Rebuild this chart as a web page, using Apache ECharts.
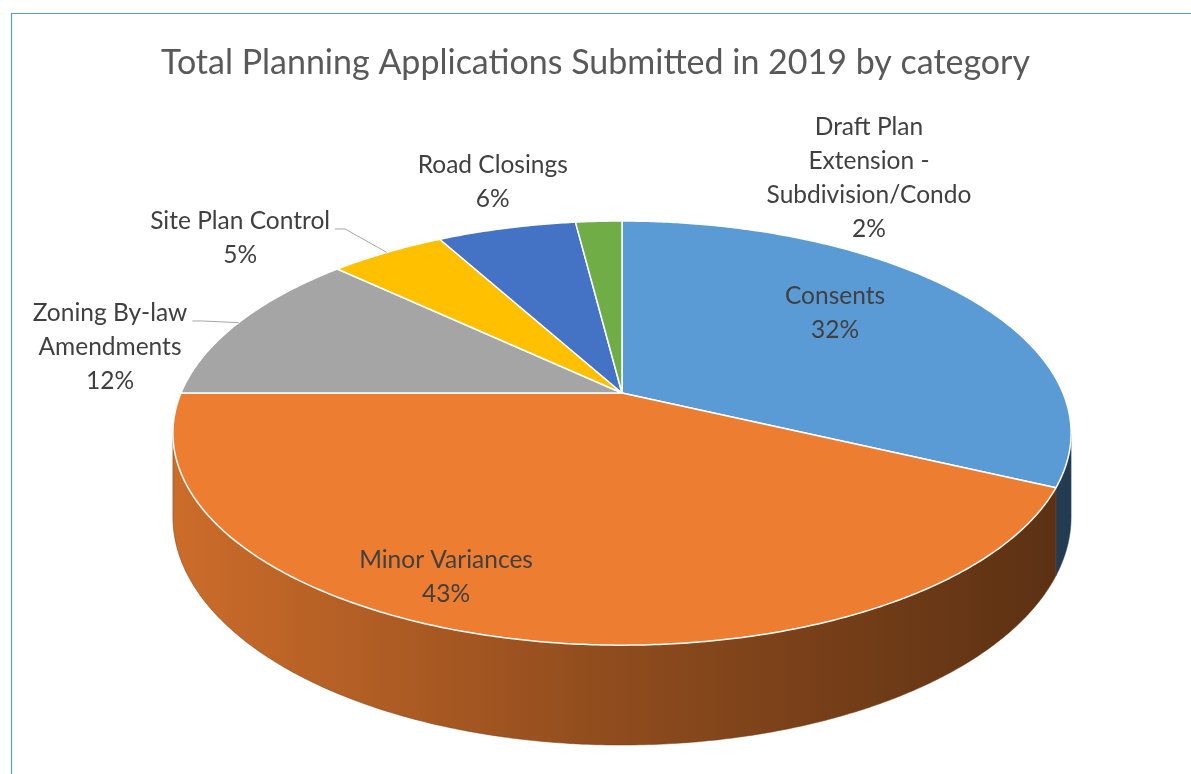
<!DOCTYPE html>
<html>
<head>
<meta charset="utf-8">
<script src="https://cdn.jsdelivr.net/npm/echarts@6/dist/echarts.min.js"></script>
<style>
  html, body { margin: 0; padding: 0; background: #fff; }
  #chart { width: 1191px; height: 774px; }
</style>
</head>
<body>
<div id="chart"></div>
<script>
var categories = ['Consents', 'Minor Variances', 'Zoning By-law\nAmendments', 'Site Plan Control', 'Road Closings', 'Draft Plan\nExtension -\nSubdivision/Condo'];
var percents = [32, 43, 12, 5, 6, 2];
var colors = ['#5B9BD5', '#ED7D31', '#A5A5A5', '#FFC000', '#4472C4', '#70AD47'];

// 3d pie look: ellipse radii, perspective factor, wall height
var pie = { cx: 622, cy: 393, a: 441, b: 204.5, k: 0.189, h: 81 };
// label anchors as fractions of radii from the pie centre
var labelAnchor = [[0.483, -0.391], [-0.399, 0.9], [-1.161, -0.225], [-0.866, -0.758], [-0.293, -1.032], [0.56, -1.051]];
var hasLeader = [false, false, true, true, false, false];
var labelFont = '24.5px Lato';
var lineH = 34;

var total = percents.reduce(function (s, v) { return s + v }, 0);
var starts = [], ends = [];
var acc = 0;
percents.forEach(function (v) {
  starts.push(acc / total * Math.PI * 2);
  acc += v;
  ends.push(acc / total * Math.PI * 2);
});

// angle from 12 o'clock, clockwise
function pt (phi, r, drop) {
  var c = Math.cos(phi);
  var s = 1 / (1 + pie.k * r * c);
  return [pie.cx + pie.a * r * Math.sin(phi) * s, pie.cy - pie.b * r * c * s + (drop ? pie.h * s : 0)];
}

function shade (hex, f) {
  var n = parseInt(hex.slice(1), 16);
  var r = Math.round(((n >> 16) & 255) * f), g = Math.round(((n >> 8) & 255) * f), b = Math.round((n & 255) * f);
  return 'rgb(' + r + ',' + g + ',' + b + ')';
}

var vis0 = Math.acos(-pie.k), vis1 = Math.PI * 2 - Math.acos(-pie.k);

function arcPoints (a0, a1, drop) {
  var pts = [];
  var n = Math.max(2, Math.ceil((a1 - a0) / (Math.PI / 360)));
  for (var j = 0; j <= n; j++) {
    pts.push(pt(a0 + (a1 - a0) * j / n, 1, drop));
  }
  return pts;
}

function renderWall (params, api) {
  var i = params.dataIndex;
  var a0 = Math.max(starts[i], vis0), a1 = Math.min(ends[i], vis1);
  if (a1 <= a0) return { type: 'group', children: [] };
  var pts = arcPoints(a0, a1, false).concat(arcPoints(a0, a1, true).reverse());
  return {
    type: 'polygon',
    shape: { points: pts },
    style: {
      fill: {
        type: 'linear', x: pie.cx - pie.a * 1.02, y: 0, x2: pie.cx + pie.a * 1.02, y2: 0, global: true,
        colorStops: [
          { offset: 0, color: shade(colors[i], 0.86) },
          { offset: 0.5, color: shade(colors[i], 0.6) },
          { offset: 1, color: shade(colors[i], 0.38) }
        ]
      },
      stroke: shade(colors[i], 0.5),
      lineWidth: 0.5
    }
  };
}

function renderTop (params, api) {
  var i = params.dataIndex;
  var pts = [pt(0, 0, false)].concat(arcPoints(starts[i], ends[i], false));
  return {
    type: 'polygon',
    shape: { points: pts },
    style: { fill: colors[i], stroke: '#ffffff', lineWidth: 1.5, lineJoin: 'round' }
  };
}

var measureCtx = document.createElement('canvas').getContext('2d');

function renderLabel (params, api) {
  var i = params.dataIndex;
  var text = categories[i] + '\n' + api.value(0) + '%';
  var lines = text.split('\n');
  var x = pie.cx + pie.a * labelAnchor[i][0];
  var y = pie.cy + pie.b * labelAnchor[i][1];
  var children = [{
    type: 'text',
    x: x,
    y: y,
    style: {
      text: text, font: labelFont, fill: '#404040',
      align: 'center', verticalAlign: 'middle', textAlign: 'center', textVerticalAlign: 'middle',
      lineHeight: lineH
    }
  }];
  if (hasLeader[i]) {
    measureCtx.font = labelFont;
    var w = measureCtx.measureText(lines[0]).width;
    var ly = y - (lines.length - 1) / 2 * lineH + 8;
    var lx = x + w / 2 + 5;
    var edge = pt((starts[i] + ends[i]) / 2, 1, false);
    children.push({
      type: 'polyline',
      shape: { points: [[lx, ly], [lx + 10, ly], edge] },
      style: { stroke: '#A6A6A6', lineWidth: 1, fill: null }
    });
  }
  return { type: 'group', children: children };
}

var chart = echarts.init(document.getElementById('chart'));
chart.setOption({
  animation: false,
  title: {
    text: 'Total Planning Applications Submitted in 2019 by category',
    left: 'center',
    top: 41,
    textStyle: { fontFamily: 'Lato', fontSize: 34, fontWeight: 'normal', color: '#595959' }
  },
  graphic: [{
    type: 'rect',
    shape: { x: 11.5, y: 13.5, width: 1300, height: 900 },
    style: { fill: 'none', stroke: '#5B9BD5', lineWidth: 1.2 },
    silent: true
  }],
  series: [
    { type: 'custom', coordinateSystem: 'none', renderItem: renderWall, data: percents, z: 1 },
    { type: 'custom', coordinateSystem: 'none', renderItem: renderTop, data: percents, z: 2 },
    { type: 'custom', coordinateSystem: 'none', renderItem: renderLabel, data: percents, z: 3 }
  ]
});
</script>
</body>
</html>
